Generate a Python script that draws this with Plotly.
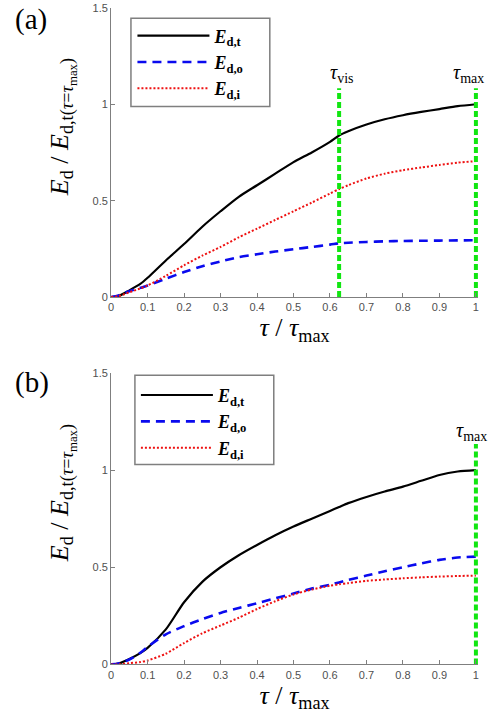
import plotly.graph_objects as go

tau = [0, 0.02, 0.05, 0.08, 0.1, 0.15, 0.2, 0.25, 0.3, 0.35, 0.4, 0.45, 0.5, 0.55, 0.6, 0.625, 0.65, 0.7, 0.75, 0.8, 0.85, 0.9, 0.95, 1.0]
Et_a = [0, 0.005, 0.035, 0.068, 0.1, 0.19, 0.275, 0.365, 0.445, 0.52, 0.58, 0.64, 0.70, 0.75, 0.805, 0.838, 0.86, 0.895, 0.922, 0.943, 0.96, 0.975, 0.99, 1.0]
Eo_a = [0, 0.008, 0.03, 0.048, 0.06, 0.095, 0.13, 0.16, 0.185, 0.207, 0.222, 0.236, 0.248, 0.26, 0.272, 0.279, 0.282, 0.286, 0.289, 0.291, 0.292, 0.293, 0.294, 0.295]
Ei_a = [0, 0.005, 0.025, 0.045, 0.06, 0.11, 0.165, 0.215, 0.26, 0.31, 0.355, 0.40, 0.445, 0.49, 0.537, 0.56, 0.58, 0.615, 0.64, 0.658, 0.672, 0.685, 0.697, 0.705]
Et_b = [0, 0.004, 0.028, 0.058, 0.085, 0.18, 0.32, 0.425, 0.5, 0.562, 0.615, 0.665, 0.71, 0.75, 0.79, 0.81, 0.83, 0.862, 0.89, 0.915, 0.945, 0.975, 0.993, 1.0]
Eo_b = [0, 0.005, 0.025, 0.06, 0.09, 0.155, 0.197, 0.233, 0.265, 0.29, 0.315, 0.34, 0.365, 0.39, 0.41, 0.422, 0.435, 0.457, 0.48, 0.5, 0.52, 0.538, 0.55, 0.555]
Ei_b = [0, 0.0, 0.006, 0.012, 0.02, 0.055, 0.11, 0.16, 0.2, 0.24, 0.285, 0.325, 0.36, 0.385, 0.405, 0.412, 0.418, 0.43, 0.437, 0.443, 0.448, 0.452, 0.455, 0.457]

tau_vis = 0.625
tau_max = 1.0
marker_top_a = 1.083
marker_top_b = 1.135

x_ticks = [0, 0.1, 0.2, 0.3, 0.4, 0.5, 0.6, 0.7, 0.8, 0.9, 1]
x_tick_labels = ["0", "0.1", "0.2", "0.3", "0.4", "0.5", "0.6", "0.7", "0.8", "0.9", "1"]
y_ticks = [0, 0.5, 1, 1.5]
y_tick_labels = ["0", "0.5", "1", "1.5"]

legend_names = ["<b><i>E</i><sub>d,t</sub></b>", "<b><i>E</i><sub>d,o</sub></b>", "<b><i>E</i><sub>d,i</sub></b>"]
x_title = "<i>τ</i> / <i>τ</i><sub>max</sub>"
y_title = "<i>E</i><sub>d</sub> / <i>E</i><sub>d,t(<i>τ</i>=<i>τ</i><sub>max</sub>)</sub>"

SERIF = "Liberation Serif, Times New Roman, serif"
SANS = "Liberation Sans, Arial, sans-serif"
BLACK = "#000000"
BLUE = "#0a0aee"
RED = "#ee1111"
GREEN = "#11e611"
FRAME = "#7f7f7f"

W, H = 491, 713
def px(v):
    return v / W
def py(v):
    # compensate the slight vertical squeeze seen in the photographed page
    return 1 - ((v - 6.7) / 0.9805) / H

fig = go.Figure()

def add_panel(xa, ya, leg, Et, Eo, Ei):
    fig.add_trace(go.Scatter(x=tau, y=Et, mode="lines", line=dict(color=BLACK, width=2.2, shape="spline", smoothing=0.7),
                             name=legend_names[0], xaxis=xa, yaxis=ya, legend=leg))
    fig.add_trace(go.Scatter(x=tau, y=Eo, mode="lines", line=dict(color=BLUE, width=2.6, dash="9px,6px", shape="spline", smoothing=0.7),
                             name=legend_names[1], xaxis=xa, yaxis=ya, legend=leg))
    fig.add_trace(go.Scatter(x=tau, y=Ei, mode="lines", line=dict(color=RED, width=2, dash="2px,2px", shape="spline", smoothing=0.7),
                             name=legend_names[2], xaxis=xa, yaxis=ya, legend=leg))

add_panel("x", "y", "legend", Et_a, Eo_a, Ei_a)
add_panel("x2", "y2", "legend2", Et_b, Eo_b, Ei_b)

for xa, ya, xs, top in [("x", "y", tau_vis, marker_top_a), ("x", "y", tau_max, marker_top_a),
                        ("x2", "y2", tau_max, marker_top_b)]:
    fig.add_trace(go.Scatter(x=[xs, xs], y=[0, top], mode="lines",
                             line=dict(color=GREEN, width=4, dash="6px,3px"),
                             showlegend=False, xaxis=xa, yaxis=ya, hoverinfo="skip"))

axis_common = dict(
    showline=True, linecolor=FRAME, linewidth=1, showgrid=False, zeroline=False,
    ticks="inside", ticklen=4, tickcolor=FRAME, tickwidth=1,
    tickfont=dict(family=SANS, size=11, color="#505050"),
    mirror=False,
)
xtitle = dict(text=x_title, font=dict(family=SERIF, size=26, color="#000"), standoff=1)

xdom = [px(109), px(479)]
legend_common = dict(xanchor="left", yanchor="top", borderwidth=0, bgcolor="rgba(0,0,0,0)",
                     font=dict(family=SERIF, size=18, color="#000"), itemwidth=72, tracegroupgap=0)
fig.update_layout(
    width=W, height=H,
    margin=dict(l=0, r=0, t=0, b=0),
    paper_bgcolor="white", plot_bgcolor="white",
    xaxis=dict(domain=xdom, anchor="y", range=[0, 1.006], tickvals=x_ticks, ticktext=x_tick_labels,
               title=xtitle, **axis_common),
    yaxis=dict(domain=[py(297), py(8.5)], anchor="x", range=[0, 1.5], tickvals=y_ticks,
               ticktext=y_tick_labels, **axis_common),
    xaxis2=dict(domain=xdom, anchor="y2", range=[0, 1.006], tickvals=x_ticks, ticktext=x_tick_labels,
                title=xtitle, **axis_common),
    yaxis2=dict(domain=[py(663.3), py(372.7)], anchor="x2", range=[0, 1.5], tickvals=y_ticks,
                ticktext=y_tick_labels, **axis_common),
    legend=dict(x=px(130.5), y=py(18), **legend_common),
    legend2=dict(x=px(134), y=py(376.5), **legend_common),
    showlegend=True,
)

# legend frames
for (x0, x1, y0, y1) in [(129, 269, 19, 107), (133, 273, 375, 464)]:
    fig.add_shape(type="rect", xref="paper", yref="paper", x0=px(x0), x1=px(x1), y0=py(y1), y1=py(y0),
                  line=dict(color=FRAME, width=1.5), fillcolor="white", layer="above")

ann_font = dict(family=SERIF, size=20, color="#000")
fig.add_annotation(x=tau_vis, y=1.16, xref="x", yref="y", text="<i>τ</i><sub>vis</sub>", showarrow=False, font=ann_font, xshift=3)
fig.add_annotation(x=tau_max, y=1.16, xref="x", yref="y", text="<i>τ</i><sub>max</sub>", showarrow=False, font=ann_font, xshift=-7)
fig.add_annotation(x=tau_max, y=1.2, xref="x2", yref="y2", text="<i>τ</i><sub>max</sub>", showarrow=False, font=ann_font, xshift=-4)

for yc in (128, 493):
    fig.add_annotation(x=px(60), y=py(yc), xref="paper", yref="paper", xanchor="center", yanchor="middle",
                       text=y_title, textangle=-90, showarrow=False, font=dict(family=SERIF, size=26, color="#000"))

fig.add_annotation(x=px(10), y=py(2), xref="paper", yref="paper", xanchor="left", yanchor="top",
                   text="(a)", showarrow=False, font=dict(family=SERIF, size=29, color="#000"))
fig.add_annotation(x=px(10), y=py(364), xref="paper", yref="paper", xanchor="left", yanchor="top",
                   text="(b)", showarrow=False, font=dict(family=SERIF, size=29, color="#000"))

fig.write_html("out.html", config={"displayModeBar": False},
               post_script="document.body.style.margin='0';document.body.style.overflow='hidden';")
